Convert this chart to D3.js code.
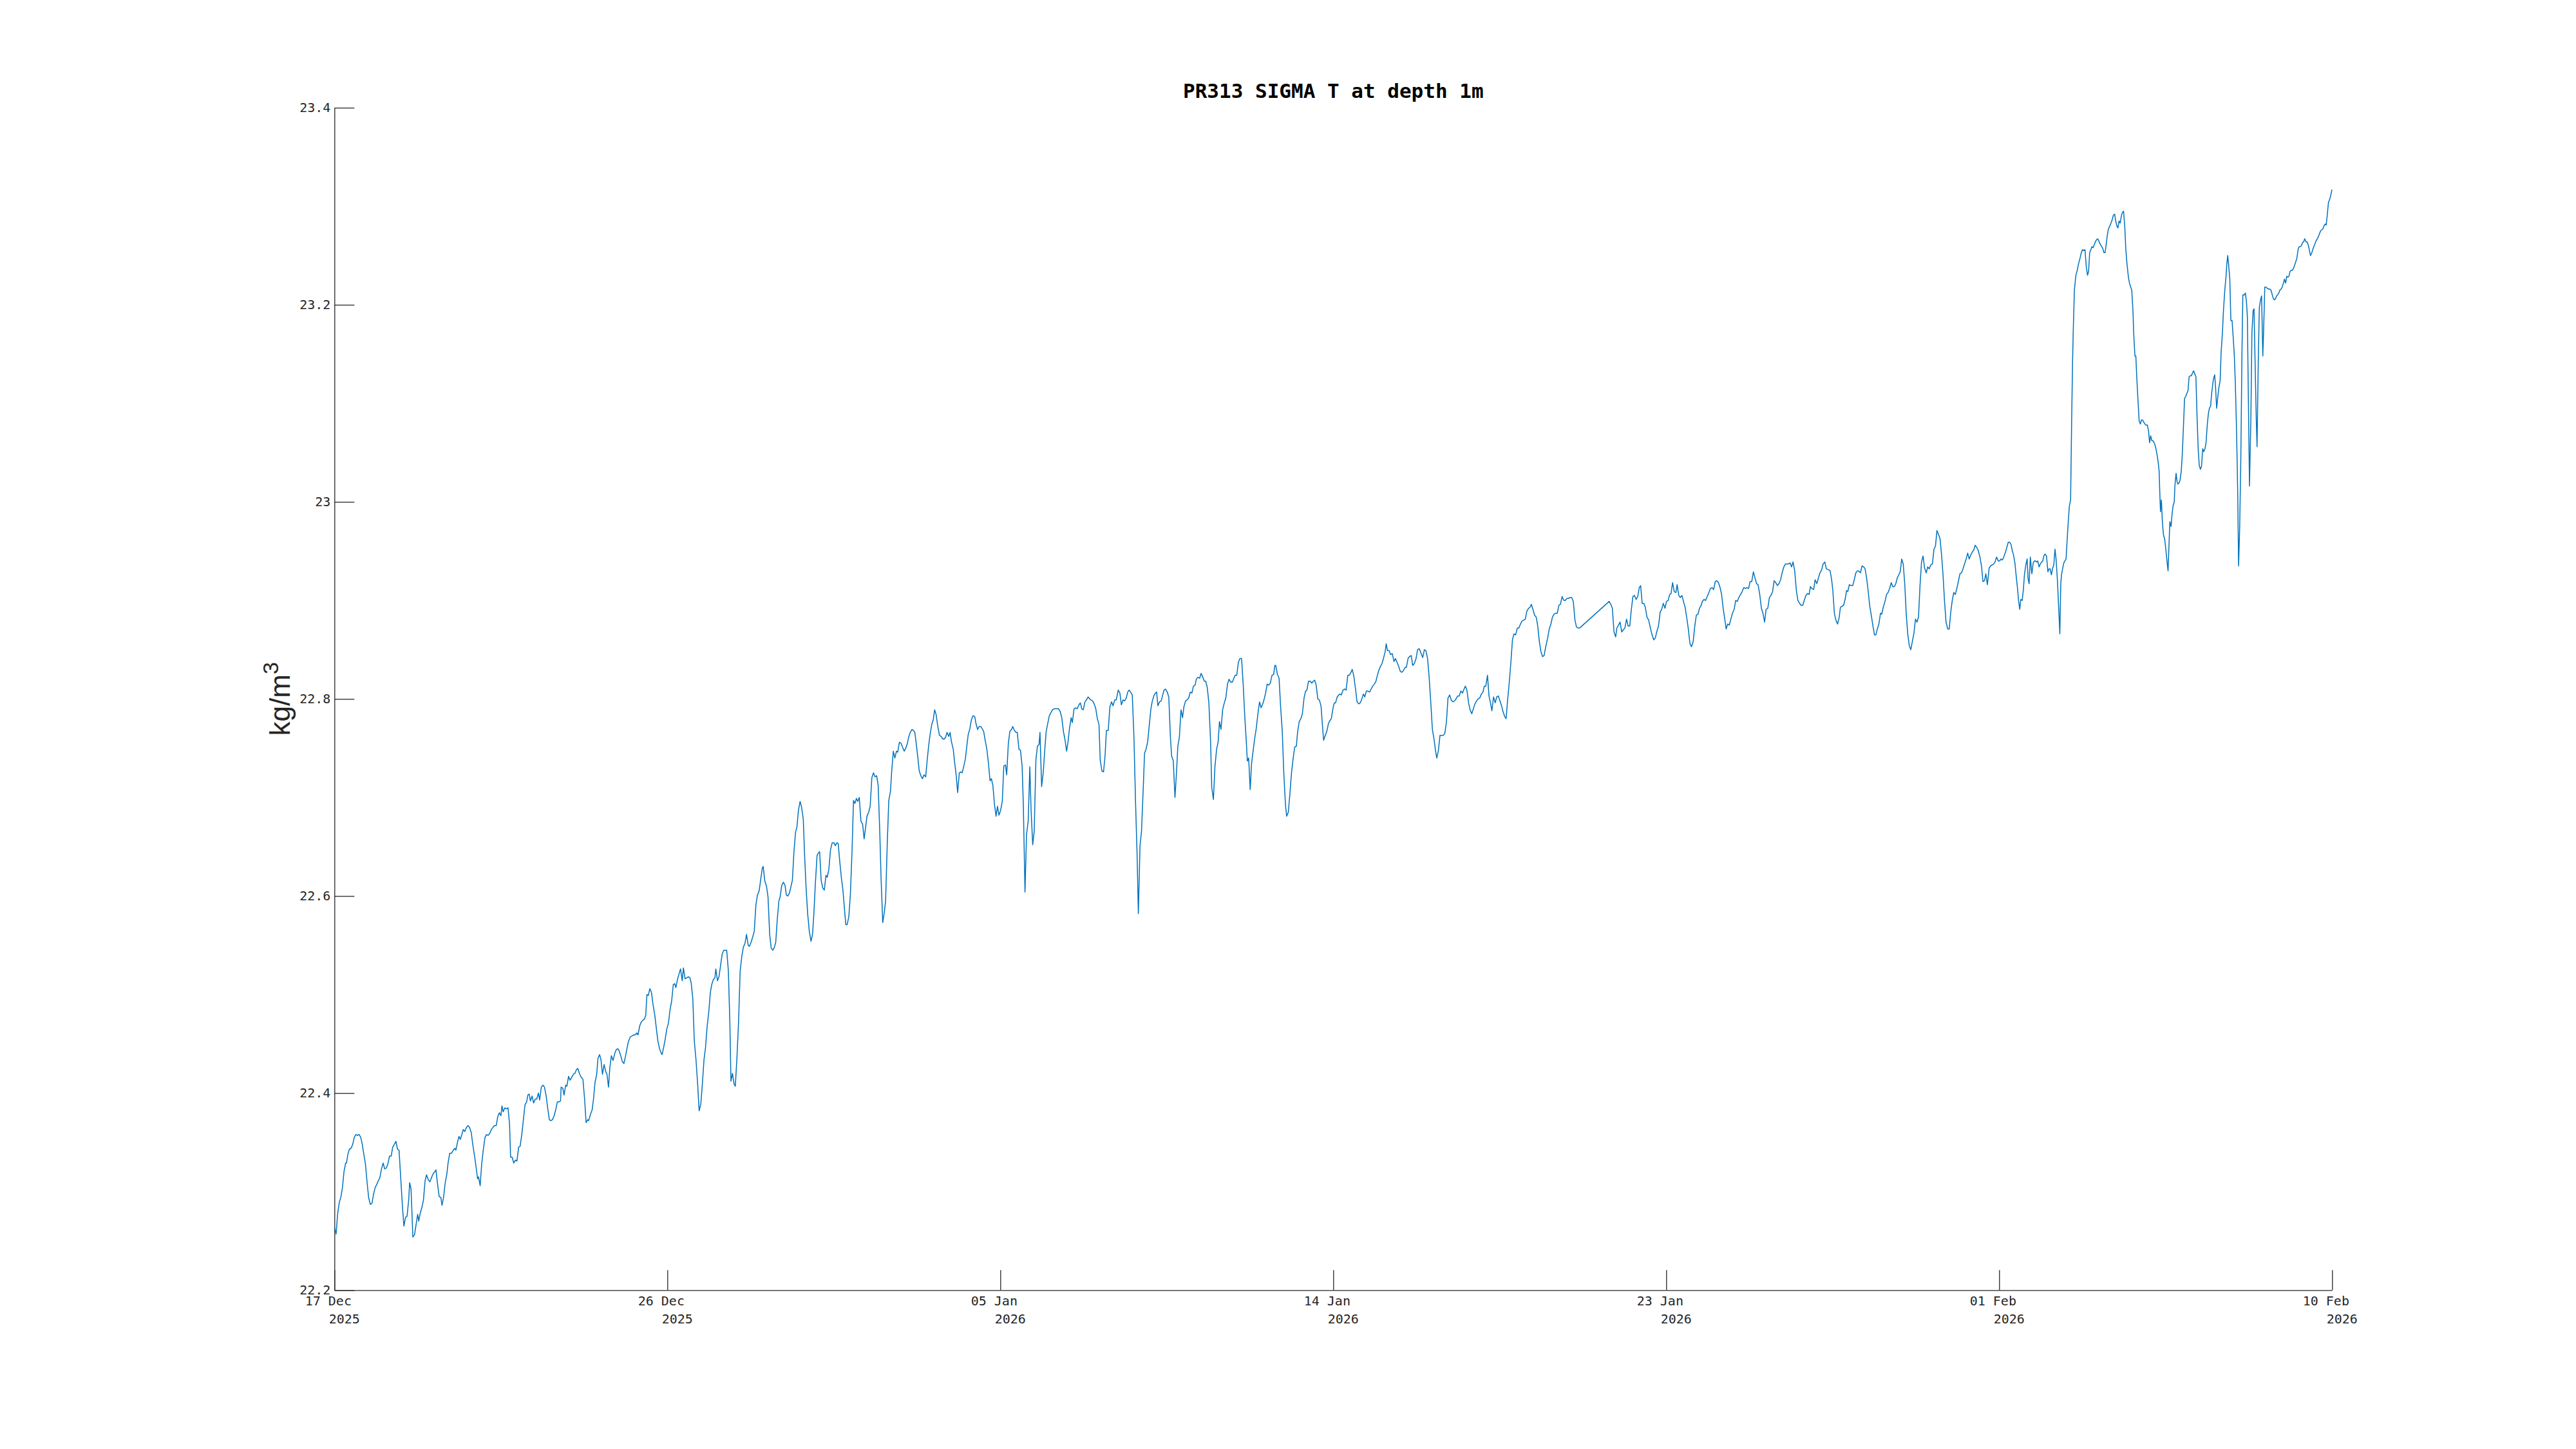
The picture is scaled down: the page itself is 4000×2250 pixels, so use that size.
<!DOCTYPE html>
<html><head><meta charset="utf-8">
<script src="https://cdn.jsdelivr.net/npm/d3@7"></script>
<style>html,body{margin:0;padding:0;background:#fff;}svg{display:block;}</style>
</head><body>
<svg id="chart" width="4000" height="2250"></svg>
<script>
const chartTitle = "PR313 SIGMA T at depth 1m";
const yAxisLabel = "kg/m";
const yAxisLabelSup = "3";
const startTime = Date.UTC(2025, 11, 17, 18, 0);
const spanDays = 55;
const xTickLine1 = ["17 Dec", "26 Dec", "05 Jan", "14 Jan", "23 Jan", "01 Feb", "10 Feb"];
const xTickLine2 = ["2025", "2025", "2026", "2026", "2026", "2026", "2026"];
const yTickValues = [22.2, 22.4, 22.6, 22.8, 23.0, 23.2, 23.4];
const yTickLabels = ["22.2", "22.4", "22.6", "22.8", "23", "23.2", "23.4"];
const yDomain = [22.2, 23.4];

// readings: [hours since start, sigma-t (kg/m3)]
const readings = [
[0.0,22.264],[1.1,22.257],[2.1,22.277],[3.2,22.289],[4.2,22.294],[5.3,22.304],[6.3,22.320],[7.4,22.329],[8.0,22.329],[8.9,22.338],
[9.9,22.343],[11.0,22.344],[12.1,22.348],[13.1,22.355],[14.2,22.358],[15.2,22.357],[16.3,22.358],[17.4,22.355],[18.4,22.348],[19.5,22.337],
[20.5,22.328],[21.6,22.309],[22.6,22.294],[23.7,22.287],[24.8,22.288],[25.8,22.297],[26.9,22.304],[27.9,22.307],[29.0,22.311],[30.0,22.314],
[31.1,22.323],[32.2,22.329],[33.2,22.323],[34.3,22.324],[35.3,22.328],[36.4,22.336],[37.5,22.336],[38.5,22.345],[39.6,22.348],[40.6,22.351],
[41.7,22.343],[42.7,22.342],[43.8,22.314],[44.9,22.286],[45.9,22.265],[47.0,22.274],[48.0,22.275],[49.1,22.292],[49.7,22.309],[50.6,22.303],
[51.2,22.280],[51.8,22.254],[52.9,22.256],[54.0,22.267],[55.0,22.277],[55.7,22.270],[56.7,22.278],[57.8,22.284],[58.8,22.291],[59.9,22.311],
[60.9,22.317],[62.0,22.312],[63.1,22.310],[64.1,22.314],[65.2,22.318],[66.2,22.320],[67.1,22.322],[68.1,22.308],[69.2,22.295],[70.3,22.294],
[71.1,22.286],[72.2,22.295],[73.2,22.309],[74.3,22.318],[75.1,22.329],[76.2,22.339],[77.4,22.339],[78.5,22.342],[79.6,22.344],[80.2,22.342],
[81.3,22.350],[82.3,22.356],[83.2,22.353],[84.2,22.358],[85.1,22.363],[86.1,22.361],[87.2,22.365],[88.2,22.367],[89.3,22.365],[90.4,22.360],
[91.4,22.348],[92.5,22.337],[93.5,22.326],[94.6,22.313],[95.2,22.315],[96.3,22.306],[97.3,22.328],[98.4,22.343],[99.5,22.355],[100.5,22.358],
[101.6,22.357],[102.6,22.359],[103.7,22.363],[104.7,22.365],[105.8,22.367],[106.9,22.367],[107.9,22.376],[109.0,22.380],[110.0,22.377],[110.7,22.387],
[111.5,22.381],[112.6,22.385],[113.6,22.384],[114.7,22.385],[115.7,22.369],[116.4,22.335],[117.4,22.335],[118.5,22.329],[119.6,22.332],[120.6,22.331],
[121.7,22.345],[122.7,22.346],[123.8,22.358],[124.8,22.372],[125.9,22.388],[127.0,22.391],[127.8,22.398],[128.7,22.399],[129.5,22.392],[130.6,22.397],
[131.6,22.390],[132.7,22.394],[133.7,22.394],[134.8,22.400],[135.6,22.393],[136.7,22.406],[137.8,22.408],[138.8,22.406],[139.9,22.397],[140.9,22.385],
[142.0,22.373],[143.0,22.372],[144.1,22.373],[145.2,22.377],[146.2,22.383],[147.3,22.391],[148.3,22.391],[149.4,22.392],[149.8,22.406],[150.9,22.405],
[151.7,22.398],[152.8,22.408],[153.6,22.407],[154.7,22.417],[155.7,22.413],[156.8,22.416],[157.9,22.419],[158.9,22.420],[160.0,22.424],[160.8,22.425],
[162.1,22.419],[163.1,22.416],[164.2,22.414],[165.3,22.394],[166.3,22.370],[167.4,22.373],[168.0,22.372],[169.1,22.378],[170.3,22.383],[171.2,22.394],
[172.2,22.411],[173.3,22.419],[174.1,22.435],[175.2,22.439],[176.1,22.434],[177.1,22.419],[178.2,22.429],[179.2,22.422],[180.1,22.419],[181.1,22.406],
[182.0,22.426],[183.0,22.438],[184.1,22.433],[185.2,22.440],[186.2,22.444],[187.3,22.445],[188.1,22.443],[189.2,22.438],[190.2,22.432],[191.3,22.430],
[192.3,22.437],[193.4,22.446],[194.2,22.452],[195.5,22.457],[196.6,22.458],[197.6,22.459],[198.7,22.459],[199.8,22.461],[200.6,22.459],[201.7,22.468],
[202.7,22.472],[203.8,22.474],[204.8,22.475],[205.7,22.479],[206.5,22.500],[207.4,22.499],[208.4,22.506],[209.5,22.502],[210.5,22.490],[211.6,22.480],
[212.7,22.466],[213.7,22.453],[214.8,22.445],[215.8,22.441],[216.5,22.439],[217.5,22.446],[218.6,22.455],[219.6,22.465],[220.7,22.471],[221.8,22.485],
[222.8,22.493],[223.9,22.510],[224.9,22.511],[225.6,22.507],[226.8,22.516],[228.1,22.523],[228.7,22.526],[229.8,22.514],[230.6,22.527],[231.7,22.516],
[232.8,22.517],[233.8,22.518],[234.9,22.517],[235.7,22.512],[236.8,22.496],[237.8,22.453],[238.9,22.434],[240.0,22.409],[241.0,22.382],[242.1,22.389],
[243.1,22.409],[244.2,22.434],[245.2,22.446],[246.3,22.468],[247.4,22.483],[248.4,22.502],[249.3,22.510],[250.3,22.515],[251.4,22.517],[252.0,22.526],
[253.1,22.514],[254.1,22.518],[255.2,22.530],[256.2,22.541],[257.3,22.545],[258.4,22.545],[259.2,22.545],[260.3,22.524],[261.3,22.471],[262.0,22.412],
[263.0,22.420],[264.1,22.409],[264.9,22.407],[266.0,22.437],[267.0,22.471],[268.1,22.524],[269.2,22.539],[270.2,22.548],[271.3,22.552],[272.3,22.561],
[273.4,22.550],[274.2,22.549],[275.3,22.553],[276.3,22.558],[277.4,22.564],[278.5,22.591],[279.5,22.601],[280.6,22.605],[281.6,22.616],[282.7,22.628],
[283.3,22.630],[284.4,22.615],[285.5,22.610],[286.5,22.599],[287.6,22.561],[288.6,22.547],[289.7,22.545],[290.7,22.548],[291.6,22.553],[292.6,22.576],
[293.7,22.595],[294.5,22.599],[295.6,22.611],[296.7,22.614],[297.7,22.611],[298.6,22.601],[299.6,22.600],[300.7,22.603],[301.7,22.610],[302.6,22.616],
[303.6,22.644],[304.7,22.665],[305.6,22.670],[306.6,22.687],[307.7,22.696],[308.7,22.690],[309.8,22.678],[310.6,22.644],[311.7,22.607],[312.7,22.582],
[313.8,22.564],[314.9,22.554],[315.9,22.561],[316.8,22.582],[317.8,22.613],[318.9,22.641],[319.9,22.644],[320.6,22.645],[321.6,22.616],[322.7,22.608],
[323.7,22.606],[324.8,22.621],[325.6,22.619],[326.7,22.627],[327.8,22.647],
[328.9,22.654],[330.1,22.654],[331.0,22.651],[332.0,22.654],[332.9,22.653],[333.9,22.635],[335.0,22.618],[336.0,22.606],[336.9,22.589],[337.9,22.571],
[338.8,22.571],[339.9,22.579],[340.9,22.601],[342.0,22.645],[343.0,22.697],[343.9,22.694],[344.9,22.699],[345.8,22.696],[346.8,22.700],[347.9,22.676],
[349.0,22.673],[350.0,22.658],[351.1,22.671],[351.9,22.681],[353.0,22.685],[354.0,22.691],[355.1,22.720],[356.2,22.725],[357.2,22.721],[358.3,22.722],
[359.3,22.712],[360.4,22.662],[361.2,22.618],[362.3,22.573],[363.4,22.584],[364.2,22.595],[365.3,22.654],[366.3,22.697],[367.4,22.706],[368.2,22.726],
[369.3,22.747],[370.3,22.740],[371.4,22.747],[372.2,22.746],[373.3,22.756],[374.4,22.755],[375.4,22.751],[376.5,22.747],[377.5,22.750],[378.6,22.755],
[379.4,22.761],[380.5,22.766],[381.6,22.769],[382.6,22.768],[383.5,22.766],[384.5,22.754],[385.6,22.739],[386.4,22.727],[387.5,22.722],[388.5,22.719],
[389.6,22.723],[390.7,22.721],[391.5,22.735],[392.6,22.752],[393.6,22.764],[394.7,22.774],[395.7,22.779],[396.6,22.789],[397.6,22.784],[398.7,22.772],
[399.8,22.763],[400.8,22.762],[401.7,22.760],[402.7,22.759],[403.8,22.761],[404.8,22.766],[405.9,22.762],[406.8,22.766],[407.8,22.756],[408.9,22.749],
[409.7,22.737],[410.8,22.723],[411.8,22.705],[412.9,22.725],[413.9,22.726],[414.8,22.725],[415.9,22.732],[416.9,22.739],[418.0,22.754],[418.8,22.764],
[419.9,22.770],[420.9,22.779],[422.0,22.783],[423.1,22.782],[423.9,22.775],[425.0,22.769],[426.0,22.772],[427.1,22.772],[427.9,22.770],[429.0,22.767],
[430.0,22.758],[431.1,22.749],[432.2,22.734],[433.2,22.717],[434.1,22.719],[435.1,22.712],[436.2,22.692],[437.2,22.681],[438.1,22.691],[439.1,22.682],
[440.2,22.687],[441.3,22.696],[442.3,22.732],[443.4,22.733],[444.2,22.723],[445.3,22.755],[446.3,22.767],[447.4,22.769],[448.2,22.772],[449.3,22.768],
[450.4,22.766],[451.2,22.766],[452.3,22.749],[453.3,22.748],[454.4,22.732],[455.2,22.693],[456.3,22.604],[457.3,22.662],[458.4,22.676],[459.5,22.731],
[460.3,22.688],[461.4,22.652],[462.4,22.666],[463.5,22.738],[464.5,22.752],[465.6,22.754],[466.2,22.766],[467.3,22.711],[468.4,22.726],[469.4,22.749],
[470.3,22.767],[471.3,22.775],[472.4,22.783],[473.4,22.786],[474.5,22.789],[475.6,22.790],[476.6,22.790],[477.7,22.790],[478.5,22.790],[479.6,22.787],
[480.6,22.781],[481.7,22.767],[482.8,22.758],[483.8,22.747],[484.7,22.756],[485.7,22.770],[486.8,22.781],[487.6,22.776],[488.7,22.790],[489.7,22.791],
[490.8,22.790],[491.9,22.794],[492.9,22.796],[493.8,22.790],[494.8,22.789],[495.9,22.797],[496.9,22.799],[498.0,22.802],[499.1,22.800],[499.9,22.799],
[501.0,22.798],[502.0,22.795],[503.1,22.790],[504.1,22.780],[505.2,22.774],[506.0,22.738],[507.1,22.727],[508.2,22.726],[509.2,22.742],[510.1,22.768],
[511.3,22.768],[512.4,22.792],[513.5,22.797],[514.5,22.793],[515.6,22.799],[516.6,22.799],[517.9,22.809],[519.0,22.806],[520.0,22.794],[521.1,22.799],
[522.1,22.798],[523.2,22.801],[524.2,22.807],[525.1,22.809],[526.1,22.807],[527.2,22.804],[528.3,22.761],[529.3,22.698],[530.4,22.640],[531.2,22.582],
[532.3,22.651],[533.3,22.666],[534.4,22.708],[535.3,22.745],[536.3,22.749],[537.4,22.757],[538.4,22.773],[539.5,22.790],[540.3,22.797],[541.4,22.803],
[542.5,22.806],[543.3,22.807],[544.1,22.793],[545.2,22.797],[546.3,22.798],[547.3,22.804],[548.2,22.809],[549.2,22.810],[550.3,22.807],[551.3,22.802],
[552.4,22.761],[553.2,22.742],[554.3,22.737],[555.4,22.700],[556.4,22.725],[557.3,22.752],[558.3,22.761],[559.4,22.789],[560.4,22.781],[561.3,22.792],
[562.4,22.798],[563.4,22.799],[564.5,22.801],[565.5,22.807],[566.6,22.806],[567.6,22.813],[568.7,22.814],[569.5,22.820],[570.6,22.822],[571.7,22.821],
[572.7,22.826],[573.8,22.822],[574.8,22.818],[575.7,22.818],[576.7,22.812],[577.8,22.796],[578.9,22.758],[579.7,22.710],[580.8,22.698],[581.8,22.731],
[582.9,22.749],[583.9,22.756],[584.8,22.777],[585.8,22.769],[586.9,22.789],[588.0,22.796],[589.0,22.801],[590.1,22.815],[591.1,22.820],[592.2,22.817],
[593.3,22.817],[594.3,22.821],[595.2,22.824],[596.2,22.824],[597.3,22.837],[598.3,22.841],[599.4,22.841],[600.5,22.814],[601.5,22.783],[602.6,22.755],
[603.2,22.737],[604.1,22.740],[605.1,22.708],[606.0,22.734],[607.0,22.747],[608.1,22.760],[609.1,22.770],[610.2,22.785],[611.3,22.797],[612.3,22.791],
[613.4,22.795],[614.2,22.799],[615.3,22.806],[616.3,22.815],[617.4,22.814],[618.4,22.816],[619.5,22.824],[620.6,22.825],[621.4,22.834],[622.0,22.834],
[623.1,22.825],[624.2,22.821],[625.2,22.792],[626.3,22.767],[627.3,22.725],[628.4,22.693],[629.2,22.681],[630.3,22.685],[631.4,22.705],[632.4,22.725],
[633.5,22.740],[634.5,22.751],[635.6,22.752],[636.4,22.766],[637.5,22.777],[638.6,22.780],[639.6,22.785],[640.7,22.801],[641.7,22.808],[642.6,22.809],
[643.6,22.818],[644.7,22.818],[645.8,22.816],[646.8,22.818],[647.7,22.819],[648.7,22.814],[649.8,22.800],[650.8,22.799],[651.9,22.793],[653.0,22.770],
[653.6,22.758],[654.7,22.763],[655.7,22.767],[656.8,22.775],[657.8,22.778],[658.7,22.780],[660.0,22.792],
[660.7,22.796],[661.5,22.796],[662.6,22.802],[663.6,22.804],[664.5,22.805],[665.3,22.804],[666.4,22.809],[667.5,22.810],[668.5,22.809],[669.6,22.824],
[670.6,22.824],[671.7,22.827],[672.5,22.830],[673.6,22.823],[674.7,22.810],[675.7,22.797],[676.8,22.795],[677.8,22.796],[678.9,22.800],[679.9,22.805],
[680.8,22.802],[681.9,22.808],[682.9,22.808],[684.0,22.807],[685.0,22.810],[686.1,22.813],[687.1,22.815],[688.2,22.818],[689.0,22.823],[690.1,22.829],
[691.2,22.833],[692.2,22.836],[693.3,22.842],[694.3,22.848],[695.0,22.856],[695.8,22.849],[696.9,22.849],[697.9,22.845],[699.0,22.846],[700.1,22.838],
[701.1,22.841],[702.2,22.837],[703.2,22.833],[704.3,22.828],[705.3,22.827],[706.4,22.829],[707.5,22.832],[708.3,22.832],[709.4,22.841],[710.4,22.843],
[711.5,22.844],[712.5,22.834],[713.6,22.836],[714.7,22.841],[715.7,22.850],[716.8,22.851],[717.8,22.847],[719.1,22.842],[720.2,22.850],[721.2,22.849],
[722.3,22.841],[723.3,22.823],[724.4,22.797],[725.5,22.769],[726.5,22.760],[727.6,22.747],[728.4,22.740],[729.5,22.748],[730.5,22.763],[731.6,22.763],
[732.7,22.763],[733.7,22.765],[734.8,22.777],[735.8,22.801],[736.9,22.804],[737.9,22.799],[739.0,22.797],[740.1,22.798],[741.1,22.800],[742.2,22.803],
[743.2,22.803],[744.3,22.808],[745.4,22.806],[746.4,22.810],[747.3,22.813],[748.3,22.809],[749.4,22.796],[750.4,22.789],[751.5,22.785],[752.6,22.790],
[753.6,22.795],[754.7,22.798],[755.7,22.800],[756.8,22.801],[757.9,22.805],[758.9,22.807],[759.8,22.813],[760.8,22.813],[761.9,22.824],[762.9,22.803],
[764.0,22.795],[764.8,22.788],[765.9,22.802],[767.0,22.796],[768.0,22.802],[769.1,22.803],[770.1,22.798],[771.2,22.793],[772.2,22.787],[773.3,22.782],
[774.2,22.780],[775.2,22.799],[776.3,22.817],[777.3,22.836],[778.4,22.860],[779.4,22.866],[780.5,22.865],[781.6,22.872],[782.6,22.872],[783.7,22.876],
[784.7,22.879],[785.8,22.880],[786.9,22.881],[787.9,22.889],[789.0,22.892],[790.0,22.893],[790.9,22.896],[791.9,22.891],[793.0,22.885],[794.1,22.883],
[795.1,22.874],[796.2,22.858],[797.2,22.848],[798.3,22.843],[799.3,22.844],[800.4,22.853],[801.7,22.862],[802.7,22.871],[803.8,22.876],[804.8,22.883],
[805.9,22.886],[807.0,22.887],[808.0,22.887],[809.1,22.895],[810.1,22.896],[811.2,22.904],[812.3,22.900],[813.3,22.900],[814.4,22.902],[815.4,22.902],
[816.5,22.903],[817.5,22.903],[818.6,22.899],[819.7,22.880],[820.7,22.873],[821.8,22.872],[822.8,22.872],
[842.3,22.899],[843.4,22.896],[844.4,22.892],[845.5,22.868],[846.6,22.863],[847.4,22.872],[848.5,22.875],[849.5,22.878],[850.6,22.868],[851.6,22.870],
[852.7,22.872],[853.8,22.881],[854.8,22.874],[855.9,22.874],[856.9,22.890],[858.0,22.904],[859.0,22.905],[860.1,22.901],[861.2,22.904],[862.2,22.913],
[863.1,22.915],[864.1,22.897],[865.2,22.897],[866.2,22.893],[867.3,22.883],[868.4,22.880],[869.4,22.873],[870.5,22.866],[871.7,22.860],[872.8,22.862],
[873.9,22.869],[874.9,22.874],[876.0,22.888],[877.0,22.891],[878.1,22.897],[879.2,22.892],[880.2,22.899],[881.3,22.900],[882.3,22.906],[883.2,22.907],
[884.2,22.918],[885.3,22.909],[886.4,22.908],[887.2,22.916],[888.3,22.905],[889.3,22.903],[890.4,22.905],[891.4,22.899],[892.5,22.893],[893.6,22.882],
[894.6,22.871],[895.7,22.856],[896.7,22.853],[897.8,22.858],[898.8,22.873],[899.9,22.885],[901.0,22.886],[902.0,22.892],[903.1,22.895],[903.9,22.899],
[905.0,22.901],[906.0,22.900],[907.1,22.904],[908.2,22.908],[909.2,22.912],[910.3,22.913],[911.3,22.911],[912.4,22.919],[913.4,22.920],[914.5,22.918],
[915.6,22.913],[916.6,22.906],[917.7,22.891],[918.5,22.883],[919.6,22.871],[920.6,22.876],[921.7,22.875],[922.7,22.881],[923.8,22.887],[924.9,22.891],
[925.9,22.900],[927.0,22.899],[928.0,22.903],[929.1,22.906],[930.2,22.909],[931.2,22.913],[932.3,22.912],[933.3,22.913],[934.4,22.912],[935.4,22.919],
[936.5,22.919],[937.6,22.929],[938.6,22.923],[939.7,22.917],[940.7,22.916],[941.8,22.906],[942.9,22.892],[943.9,22.887],[945.0,22.878],[946.0,22.891],
[947.1,22.892],[948.2,22.903],[949.2,22.905],[950.3,22.909],[951.3,22.920],[952.4,22.918],[953.5,22.915],[954.5,22.917],[955.6,22.921],[956.6,22.928],
[957.7,22.934],[958.8,22.937],[959.8,22.937],[960.9,22.937],[961.9,22.938],[962.8,22.934],[963.8,22.939],[964.9,22.930],[966.0,22.910],[967.0,22.900],
[968.1,22.897],[969.1,22.895],[970.2,22.895],[971.2,22.900],[972.3,22.905],[973.4,22.907],[974.4,22.906],[975.3,22.914],[976.3,22.912],[977.4,22.911],
[978.4,22.921],[979.5,22.917],[980.6,22.923],[981.6,22.928],[982.7,22.931],[983.7,22.937],[984.8,22.939],[985.8,22.932],[987.5,22.931],
[988.3,22.930],[989.3,22.921],[990.1,22.910],[991.1,22.887],[992.1,22.880],[993.2,22.876],[994.2,22.882],[995.1,22.893],[996.1,22.894],[997.2,22.895],
[998.2,22.901],[999.2,22.910],[1000.0,22.909],[1001.0,22.916],[1002.0,22.915],[1003.2,22.915],[1004.1,22.920],[1005.3,22.928],[1006.3,22.930],[1007.1,22.930],
[1008.3,22.928],[1009.4,22.935],[1010.5,22.934],[1011.4,22.932],[1012.4,22.923],[1013.4,22.910],[1014.5,22.894],[1015.6,22.884],[1016.6,22.874],[1017.6,22.865],
[1018.5,22.865],[1019.5,22.871],[1020.5,22.876],[1021.6,22.887],[1022.4,22.886],[1023.4,22.893],[1024.4,22.898],[1025.6,22.906],[1026.6,22.908],[1027.6,22.912],
[1028.7,22.918],[1029.7,22.914],[1030.7,22.914],[1031.7,22.917],[1032.7,22.923],[1033.7,22.926],[1034.6,22.929],[1035.6,22.942],[1036.6,22.937],[1037.6,22.917],
[1038.6,22.886],[1039.6,22.866],[1040.6,22.854],[1041.6,22.850],[1042.6,22.858],[1043.7,22.867],[1044.7,22.881],[1045.7,22.878],[1046.7,22.883],[1047.7,22.915],
[1048.7,22.939],[1049.7,22.945],[1050.7,22.933],[1051.8,22.928],[1052.8,22.934],[1053.8,22.932],[1054.8,22.936],[1055.9,22.937],[1056.9,22.952],[1057.9,22.955],
[1058.9,22.971],[1059.9,22.967],[1060.9,22.963],[1061.9,22.947],[1062.9,22.926],[1063.9,22.899],[1064.9,22.878],[1066.0,22.871],[1067.0,22.871],[1068.0,22.888],
[1069.0,22.900],[1070.0,22.908],[1071.0,22.906],[1072.0,22.912],[1073.0,22.919],[1074.1,22.927],[1075.1,22.928],[1076.1,22.932],[1077.1,22.937],[1078.0,22.941],
[1079.2,22.948],[1080.2,22.942],[1081.2,22.946],[1082.2,22.949],[1083.2,22.951],[1084.1,22.956],[1085.1,22.954],[1086.1,22.951],[1087.3,22.944],[1088.3,22.935],
[1089.3,22.919],[1090.3,22.920],[1091.2,22.927],[1092.2,22.916],[1093.4,22.933],[1094.4,22.935],[1095.4,22.936],[1096.4,22.937],[1097.3,22.939],[1098.3,22.944],
[1099.4,22.940],[1100.3,22.940],[1101.2,22.942],[1102.1,22.941],[1103.0,22.944],[1104.2,22.949],[1105.1,22.954],[1106.0,22.959],[1106.9,22.959],[1107.8,22.957],
[1108.6,22.951],[1109.5,22.946],[1110.4,22.938],[1111.3,22.924],[1112.2,22.911],[1112.8,22.900],[1113.6,22.891],[1114.3,22.901],[1115.2,22.900],[1116.0,22.911],
[1116.7,22.926],[1117.6,22.936],[1118.5,22.942],[1119.1,22.922],[1119.8,22.917],[1120.6,22.944],[1121.6,22.927],[1122.5,22.938],[1123.3,22.940],[1124.0,22.940],
[1124.8,22.939],[1125.5,22.940],[1126.4,22.934],[1127.2,22.937],[1128.1,22.939],[1128.8,22.940],[1129.5,22.945],[1130.3,22.947],[1131.3,22.945],[1132.2,22.929],
[1133.0,22.932],[1133.7,22.932],[1134.5,22.926],[1135.2,22.932],[1136.1,22.936],[1136.9,22.952],[1137.6,22.942],[1138.5,22.920],[1139.4,22.890],[1140.1,22.866],
[1140.7,22.917],[1141.2,22.926],[1141.9,22.932],[1142.7,22.938],[1143.4,22.940],[1144.2,22.942],[1144.9,22.961],[1145.7,22.981],[1146.4,22.996],[1147.2,23.002],
[1147.9,23.083],[1148.5,23.142],[1148.9,23.171],[1149.7,23.215],[1150.7,23.230],[1151.6,23.235],[1152.5,23.242],[1153.4,23.247],[1154.3,23.253],[1155.1,23.256],
[1155.8,23.255],[1156.7,23.256],[1157.6,23.238],[1158.4,23.230],[1159.1,23.234],[1159.8,23.253],[1160.6,23.256],[1161.3,23.259],[1162.1,23.258],[1162.8,23.261],
[1163.6,23.264],[1164.3,23.266],[1165.1,23.267],[1165.8,23.265],[1166.6,23.262],[1167.8,23.259],[1168.5,23.257],[1169.2,23.253],[1170.0,23.253],[1170.7,23.261],
[1171.5,23.271],[1172.2,23.277],[1173.1,23.280],[1173.9,23.283],[1174.6,23.286],[1175.5,23.291],[1176.3,23.292],[1177.0,23.285],[1177.8,23.280],[1178.5,23.278],
[1179.2,23.285],[1180.0,23.283],[1180.7,23.290],[1181.5,23.294],[1182.2,23.295],[1183.0,23.279],[1183.7,23.256],[1184.5,23.241],[1185.4,23.228],[1186.1,23.222],
[1186.9,23.218],[1187.6,23.215],[1188.4,23.194],[1188.9,23.171],[1189.7,23.148],[1190.3,23.148],[1191.0,23.124],[1191.8,23.101],[1192.5,23.082],[1193.3,23.079],
[1194.0,23.083],[1194.8,23.083],[1195.5,23.081],[1196.3,23.079],[1197.0,23.078],[1197.9,23.078],[1198.7,23.072],[1199.4,23.060],[1200.1,23.067],[1200.9,23.062],
[1201.8,23.062],[1202.7,23.059],[1203.6,23.054],[1204.3,23.048],[1205.1,23.040],[1205.7,23.031],[1206.1,23.011],[1206.6,22.990],[1207.2,23.002],[1207.8,22.981],
[1208.5,22.967],[1209.4,22.962],[1210.1,22.952],[1211.0,22.938],[1211.6,22.930],[1212.4,22.964],[1212.8,22.980],[1213.6,22.975],[1214.2,22.987],[1214.9,22.996],
[1215.7,23.000],[1216.1,23.016],[1216.9,23.029],[1217.5,23.021],[1218.1,23.018],[1218.8,23.019],[1219.5,23.022],[1220.3,23.031],[1221.0,23.048],[1221.8,23.078],
[1222.5,23.105],[1223.3,23.107],[1224.0,23.110],[1224.8,23.113],[1225.5,23.127],[1226.3,23.128],[1227.0,23.128],[1227.8,23.131],[1228.5,23.133],[1229.2,23.130],
[1230.0,23.127],[1230.7,23.089],[1231.5,23.054],[1232.2,23.037],[1233.0,23.033],[1233.7,23.036],[1234.5,23.054],[1235.2,23.051],[1236.0,23.054],[1236.7,23.060],
[1237.5,23.078],[1238.2,23.089],[1238.9,23.095],[1239.7,23.097],[1240.4,23.110],[1241.5,23.124],[1242.4,23.129],[1243.0,23.116],[1243.7,23.095],[1244.5,23.107],
[1245.2,23.116],[1246.0,23.123],[1246.7,23.153],[1247.5,23.171],[1248.2,23.194],[1249.0,23.213],[1249.9,23.229],[1250.4,23.241],[1251.0,23.250],[1251.6,23.241],
[1252.4,23.226],[1253.1,23.184],[1253.9,23.184],[1254.6,23.168],[1255.4,23.148],[1256.1,23.118],[1256.9,23.069],[1257.6,23.011],[1258.2,22.935],[1258.9,22.973],
[1259.7,23.046],[1260.4,23.148],[1261.0,23.210],[1261.9,23.210],[1262.7,23.212],[1263.4,23.203],[1264.0,23.188],[1264.6,23.113],[1265.4,23.016],[1266.3,23.083],
[1267.0,23.171],[1267.8,23.194],[1268.4,23.196],[1269.1,23.142],[1269.9,23.083],[1270.4,23.056],[1271.2,23.142],[1271.9,23.197],[1272.7,23.205],[1273.4,23.209],
[1274.2,23.148],[1274.8,23.177],[1275.5,23.218],[1276.3,23.218],[1277.0,23.217],[1277.9,23.216],[1278.8,23.216],[1279.6,23.215],[1280.3,23.211],[1281.0,23.207],
[1281.8,23.205],[1282.5,23.206],[1283.3,23.209],[1284.0,23.210],[1284.8,23.212],[1285.5,23.215],[1286.3,23.216],[1287.0,23.218],[1287.8,23.222],[1288.5,23.226],
[1289.3,23.222],[1290.0,23.229],[1290.7,23.228],[1291.5,23.229],[1292.2,23.234],[1293.0,23.235],[1293.7,23.235],[1294.5,23.237],[1295.2,23.240],[1296.0,23.244],
[1296.7,23.247],[1297.5,23.256],[1298.2,23.259],[1299.0,23.259],[1299.7,23.260],[1300.4,23.263],[1301.2,23.264],[1301.9,23.267],[1302.7,23.264],[1303.4,23.264],
[1304.2,23.261],[1304.9,23.256],[1305.7,23.250],[1306.4,23.252],[1307.2,23.256],[1307.9,23.259],[1308.7,23.262],[1309.4,23.265],[1310.2,23.267],[1310.9,23.269],
[1311.6,23.272],[1312.4,23.275],[1313.1,23.276],[1313.9,23.277],[1314.6,23.280],[1315.4,23.282],[1316.1,23.281],[1316.9,23.293],[1317.6,23.304],[1318.4,23.307],
[1319.1,23.311],[1319.9,23.317]
];

const svg = d3.select("#chart");
const W = 4000, H = 2250;
const plot = { left: 519.3, right: 3621.3, top: 167.3, bottom: 2003.3 };
const ink = "#262626";
const monoFont = "'DejaVu Sans Mono', 'Liberation Mono', monospace";

svg.append("rect").attr("width", W).attr("height", H).attr("fill", "#ffffff");

const t0 = new Date(startTime);
const t1 = new Date(startTime + spanDays * 864e5);
const x = d3.scaleTime().domain([t0, t1]).range([plot.left, plot.right]);
const y = d3.scaleLinear().domain(yDomain).range([plot.bottom, plot.top]);

const xTickDates = xTickLine1.map((_, i) => new Date(+t0 + (t1 - t0) * i / (xTickLine1.length - 1)));

// Y axis
const yAxis = d3.axisLeft(y)
  .tickValues(yTickValues)
  .tickSizeInner(-31)
  .tickSizeOuter(0)
  .tickPadding(6)
  .tickFormat((d, i) => yTickLabels[i]);
const gy = svg.append("g").attr("transform", `translate(${plot.left},0)`).call(yAxis);
gy.select(".domain").attr("stroke", ink).attr("stroke-width", 1.3);
gy.selectAll(".tick line").attr("stroke", ink).attr("stroke-width", 1.3);
gy.selectAll(".tick text").attr("fill", ink).attr("font-family", monoFont).attr("font-size", 20);
gy.attr("font-family", null).attr("font-size", null);

// X axis
const xAxis = d3.axisBottom(x)
  .tickValues(xTickDates)
  .tickSizeInner(-31)
  .tickSizeOuter(0)
  .tickFormat(() => "");
const gx = svg.append("g").attr("transform", `translate(0,${plot.bottom})`).call(xAxis);
gx.select(".domain").attr("stroke", ink).attr("stroke-width", 1.3);
gx.selectAll(".tick line").attr("stroke", ink).attr("stroke-width", 1.3);
gx.selectAll(".tick text").remove();
gx.selectAll(".tick").each(function(d, i) {
  const g = d3.select(this);
  g.append("text").attr("x", -10).attr("y", 23.5).attr("text-anchor", "middle")
    .attr("fill", ink).attr("font-family", monoFont).attr("font-size", 20).text(xTickLine1[i]);
  g.append("text").attr("x", 15).attr("y", 51.5).attr("text-anchor", "middle")
    .attr("fill", ink).attr("font-family", monoFont).attr("font-size", 20).text(xTickLine2[i]);
});

// Line
const line = d3.line()
  .x(d => x(new Date(startTime + d[0] * 3600e3)))
  .y(d => y(d[1]));
svg.append("path")
  .datum(readings)
  .attr("fill", "none")
  .attr("stroke", "#0072BD")
  .attr("stroke-width", 1.5)
  .attr("stroke-linejoin", "round")
  .attr("d", line);

// Title
svg.append("text")
  .attr("x", (plot.left + plot.right) / 2)
  .attr("y", 152)
  .attr("text-anchor", "middle")
  .attr("font-family", monoFont)
  .attr("font-weight", "bold")
  .attr("font-size", 31)
  .attr("fill", "#000")
  .text(chartTitle);

// Y label
const yl = svg.append("text")
  .attr("transform", `translate(450,${(plot.top + plot.bottom) / 2}) rotate(-90)`)
  .attr("text-anchor", "middle")
  .attr("font-family", "'Liberation Sans', Arial, sans-serif")
  .attr("font-size", 44)
  .attr("fill", ink);
yl.append("tspan").text(yAxisLabel);
yl.append("tspan").attr("dy", -18).attr("font-size", 34).text(yAxisLabelSup);
</script>
</body></html>
